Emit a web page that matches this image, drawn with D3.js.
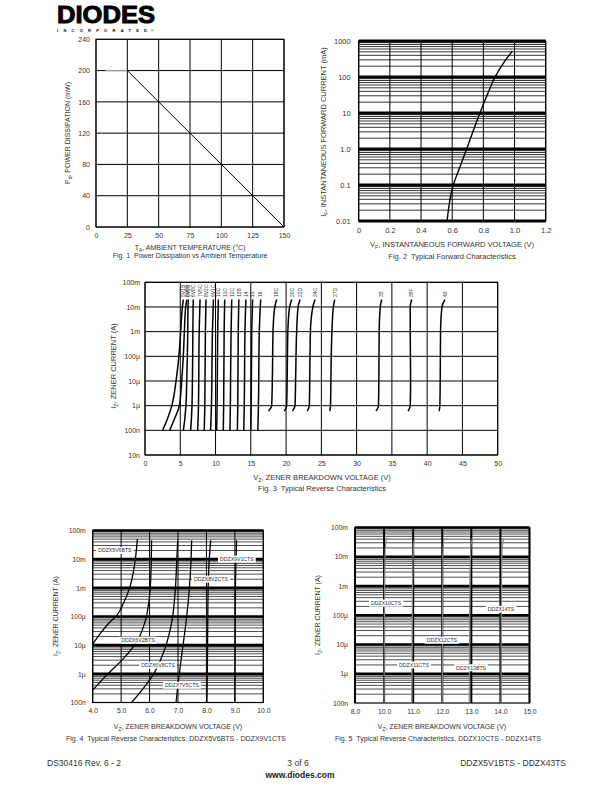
<!DOCTYPE html>
<html>
<head>
<meta charset="utf-8">
<script src="https://cdn.jsdelivr.net/npm/d3@7"></script>
<style>
body{margin:0;background:#fff}
svg{display:block;font-family:"Liberation Sans",Arial,sans-serif}
text{white-space:pre}
</style>
</head>
<body>
<div id="app"></div>
<script>
// ---- data ----
const fig1Temp = [7.5, 25, 150]
const fig1Power = [200, 200, 0]
const fig1XTicks = [0, 25, 50, 75, 100, 125, 150]
const fig1YTicks = [0, 40, 80, 120, 160, 200, 240]

const fig2Volt = [0.567, 0.607, 0.65, 0.693, 0.735, 0.778, 0.825, 0.875, 0.928, 0.986]
const fig2Curr = [0.01, 0.1, 0.32, 1, 3.2, 10, 32, 100, 240, 525]
const fig2XTicks = [0, 0.2, 0.4, 0.6, 0.8, 1.0, 1.2]
const fig2XLabels = ["0", "0.2", "0.4", "0.6", "0.8", "1.0", "1.2"]
const fig2YTicks = [0.01, 0.1, 1, 10, 100, 1000]
const fig2YLabels = ["0.01", "0.1", "1.0", "10", "100", "1000"]

const fig3Names = ["5V1B","5V6B","6V2B","6V8C","7V5C","8V2C","9V1C","10C","11C","12C","13B","14","15","16","18C","20C","22D","24C","27D","33","39F","43"]
const fig3V = [
  [2.5, 3.2, 3.8, 4.4, 4.8, 5.06, 5.3, 5.43],
  [3.5, 4.2, 4.87, 5.2, 5.43, 5.58, 5.77, 5.92],
  [5.43, 5.65, 5.8, 5.92, 6.0, 6.06, 6.1, 6.14],
  [6.47, 6.58, 6.66, 6.72, 6.76, 6.79, 6.82, 6.85],
  [7.47, 7.58, 7.68, 7.8],
  [8.4, 8.48, 8.56, 8.65],
  [9.3, 9.42, 9.56, 9.7],
  [10.16, 10.22, 10.3, 10.4],
  [11.1, 11.15, 11.22, 11.3],
  [12.05, 12.1, 12.2, 12.3],
  [13.1, 13.15, 13.22, 13.3],
  [14.0, 14.07, 14.17, 14.3],
  [15.0, 15.05, 15.13, 15.26],
  [16.0, 16.08, 16.2, 16.4],
  [17.5, 17.96, 18.05, 18.15, 18.4, 18.67],
  [19.75, 20.08, 20.15, 20.25, 20.5, 20.8],
  [20.9, 21.27, 21.35, 21.5, 21.7, 21.98],
  [23.0, 23.3, 23.35, 23.45, 23.8, 24.1],
  [26.2, 26.3, 26.35, 26.5, 26.7, 26.9],
  [32.75, 33.1, 33.15, 33.2, 33.35, 33.55],
  [37.3, 37.6, 37.65, 37.6, 37.6, 37.8],
  [41.7, 41.8, 41.85, 41.9, 42.1, 42.5]
]
const fig3I = [
  [1e-7, 3e-7, 1e-6, 1e-5, 1e-4, 1e-3, 1e-2, 2e-2],
  [1e-7, 3e-7, 1e-6, 1e-5, 1e-4, 1e-3, 1e-2, 2e-2],
  [1e-7, 3e-7, 1e-6, 1e-5, 1e-4, 1e-3, 1e-2, 2e-2],
  [1e-7, 3e-7, 1e-6, 1e-5, 1e-4, 1e-3, 1e-2, 2e-2],
  [1e-7, 1e-6, 1e-3, 2e-2],
  [1e-7, 1e-6, 1e-3, 2e-2],
  [1e-7, 1e-6, 1e-3, 2e-2],
  [1e-7, 1e-6, 1e-3, 2e-2],
  [1e-7, 1e-6, 1e-3, 2e-2],
  [1e-7, 1e-6, 1e-3, 2e-2],
  [1e-7, 1e-6, 1e-3, 2e-2],
  [1e-7, 1e-6, 1e-3, 2e-2],
  [1e-7, 1e-6, 1e-3, 2e-2],
  [1e-7, 1e-6, 1e-3, 2e-2],
  [6e-7, 1e-6, 1e-5, 1e-3, 1e-2, 2e-2],
  [6e-7, 1e-6, 1e-5, 1e-3, 1e-2, 2e-2],
  [6e-7, 1e-6, 1e-5, 1e-3, 1e-2, 2e-2],
  [6e-7, 1e-6, 1e-5, 1e-3, 1e-2, 2e-2],
  [6e-7, 1e-6, 1e-5, 1e-3, 1e-2, 2e-2],
  [6e-7, 1e-6, 1e-5, 1e-3, 1e-2, 2e-2],
  [6e-7, 1e-6, 1e-5, 1e-3, 1e-2, 2e-2],
  [6e-7, 1e-6, 1e-5, 1e-3, 1e-2, 2e-2]
]
const fig3XTicks = [0, 5, 10, 15, 20, 25, 30, 35, 40, 45, 50]
const fig3YTicks = [1e-8, 1e-7, 1e-6, 1e-5, 1e-4, 1e-3, 1e-2, 1e-1]
const fig3YLabels = ["10n", "100n", "1\u00b5", "10\u00b5", "100\u00b5", "1m", "10m", "100m"]

const fig4Names = ["DDZX5V6BTS", "DDZX6V2BTS", "DDZX6V8CTS", "DDZX7V5CTS", "DDZX8V2CTS", "DDZX9V1CTS"]
const fig4V = [
  [4.0, 4.3, 4.6, 4.85, 5.1, 5.3, 5.42, 5.5, 5.57],
  [4.0, 4.49, 5.08, 5.55, 5.84, 5.99, 6.05, 6.07],
  [5.37, 5.78, 6.19, 6.54, 6.78, 6.9, 6.95, 6.99],
  [6.93, 7.01, 7.13, 7.27, 7.39, 7.46, 7.48],
  [8.02, 8.04, 8.06, 8.1, 8.15],
  [9.0, 9.01, 9.02, 9.04, 9.06]
]
const fig4I = [
  [1.1e-5, 2.8e-5, 6.3e-5, 1.1e-4, 3.2e-4, 1e-3, 3.2e-3, 1e-2, 5e-2],
  [2.7e-7, 9e-7, 3.4e-6, 1.3e-5, 6.5e-5, 4.3e-4, 3.6e-3, 4.6e-2],
  [1e-7, 3.1e-7, 1.2e-6, 7.6e-6, 6.5e-5, 7.2e-4, 6.2e-3, 4.6e-2],
  [1e-7, 5.2e-7, 4.5e-6, 5e-5, 7.2e-4, 1e-2, 4.6e-2],
  [1e-7, 1e-5, 1e-3, 1e-2, 4.6e-2],
  [1e-7, 1e-5, 1e-3, 1e-2, 4.6e-2]
]
const fig4XTicks = [4, 5, 6, 7, 8, 9, 10]
const fig4XLabels = ["4.0", "5.0", "6.0", "7.0", "8.0", "9.0", "10.0"]
const fig45YTicks = [1e-7, 1e-6, 1e-5, 1e-4, 1e-3, 1e-2, 1e-1]
const fig45YLabels = ["100n", "1\u00b5", "10\u00b5", "100\u00b5", "1m", "10m", "100m"]

const fig5Names = ["DDZX10CTS", "DDZX11CTS", "DDZX12CTS", "DDZX13BTS", "DDZX14TS"]
const fig5V = [
  [10.0, 10.01, 10.03, 10.06, 10.09],
  [10.95, 10.97, 11.0, 11.02, 11.05],
  [12.0, 12.01, 12.02, 12.04, 12.07],
  [12.93, 12.94, 12.97, 13.0, 13.04],
  [14.02, 14.03, 14.05, 14.08, 14.12]
]
const fig5I = [1e-7, 1e-4, 1e-2, 3e-2, 4.3e-2]
const fig5XTicks = [9, 10, 11, 12, 13, 14, 15]
const fig5XLabels = ["8.0", "10.0", "11.0", "12.0", "13.0", "14.0", "15.0"]

// label anchors, in data units
const fig4LabelAt = [[4.78, 2e-2], [5.59, 1.5e-5], [6.3, 2e-6], [7.14, 4e-7], [8.16, 2e-3], [9.07, 1e-2]]
const fig5LabelAt = [[10.07, 2.6e-4], [11.03, 2e-6], [11.99, 1.4e-5], [12.99, 1.6e-6], [14.02, 1.6e-4]]

// ---- drawing ----
const ink = "#333"
const svg = d3.select("#app").append("svg")
  .attr("width", 612)
  .attr("height", 792)
svg.append("rect").attr("width", 612).attr("height", 792).attr("fill", "#fff")

function logMinor(lo, hi) {
  const out = []
  for (let e = lo; e < hi; e++) for (let k = 2; k < 10; k++) out.push(k * Math.pow(10, e))
  return out
}

function hLines(g, data, x, y, w) {
  g.selectAll(null).data(data).enter().append("line")
    .attr("x1", x.range()[0]).attr("x2", x.range()[1])
    .attr("y1", d => y(d)).attr("y2", d => y(d))
    .attr("stroke", "#000").attr("stroke-width", w)
}
function vLines(g, data, x, y, w) {
  g.selectAll(null).data(data).enter().append("line")
    .attr("x1", d => x(d)).attr("x2", d => x(d))
    .attr("y1", y.range()[0]).attr("y2", y.range()[1])
    .attr("stroke", "#000").attr("stroke-width", w)
}
function frame(g, x, y, w) {
  g.append("rect")
    .attr("x", x.range()[0]).attr("y", y.range()[1])
    .attr("width", x.range()[1] - x.range()[0])
    .attr("height", y.range()[0] - y.range()[1])
    .attr("fill", "none").attr("stroke", "#000").attr("stroke-width", w)
}
function axes(x, y, xt, xl, yt, yl, fs, padX, padY) {
  const ax = svg.append("g")
    .attr("transform", "translate(0," + y.range()[0] + ")")
    .call(d3.axisBottom(x).tickValues(xt).tickFormat((d, i) => xl ? xl[i] : d).tickSize(0).tickPadding(padX))
  const ay = svg.append("g")
    .attr("transform", "translate(" + x.range()[0] + ",0)")
    .call(d3.axisLeft(y).tickValues(yt).tickFormat((d, i) => yl ? yl[i] : d).tickSize(0).tickPadding(padY))
  for (const a of [ax, ay]) {
    a.select(".domain").remove()
    a.attr("font-family", null).attr("font-size", fs).attr("color", ink)
  }
}
function subText(x, y, main, sub, rest, fs, rotate) {
  const t = svg.append("text")
    .attr("text-anchor", "middle")
    .attr("font-size", fs)
    .attr("fill", ink)
    .attr("transform", "translate(" + x + "," + y + ")" + (rotate ? " rotate(-90)" : ""))
  t.append("tspan").text(main)
  t.append("tspan").attr("font-size", fs * 0.7).attr("dy", fs * 0.3).text(sub)
  t.append("tspan").attr("dy", -fs * 0.3).text(rest)
}
function caption(x, y, s, fs) {
  svg.append("text").attr("x", x).attr("y", y).attr("text-anchor", "middle")
    .attr("font-size", fs).attr("fill", ink).text(s)
}
function boxLabel(g, px, py, s) {
  const lg = g.append("g")
  const r = lg.append("rect").attr("fill", "#fff")
  const t = lg.append("text").attr("x", px).attr("y", py).attr("dy", "0.35em")
    .attr("text-anchor", "middle").attr("font-size", 5.2).attr("fill", ink).text(s)
  const w = t.node().getComputedTextLength() + 4
  r.attr("x", px - w / 2).attr("y", py - 3.5).attr("width", w).attr("height", 7)
}

// logo
svg.append("text")
  .attr("x", 57).attr("y", 22.5)
  .attr("font-size", 24).attr("font-weight", "bold")
  .attr("textLength", 98).attr("lengthAdjust", "spacingAndGlyphs")
  .attr("fill", "#000").attr("stroke", "#000").attr("stroke-width", 1)
  .text("DIODES")
svg.append("text")
  .attr("x", 57).attr("y", 31.5)
  .attr("font-size", 4).attr("font-weight", "bold")
  .attr("textLength", 90).attr("lengthAdjust", "spacing")
  .attr("fill", "#000")
  .text("INCORPORATED")
svg.append("text").attr("x", 151).attr("y", 31.5).attr("font-size", 3.5).attr("fill", "#000").text("\u00ae")

// Fig 1
const x1 = d3.scaleLinear().domain([0, 150]).range([96, 284])
const y1 = d3.scaleLinear().domain([0, 240]).range([227, 39.3])
const g1 = svg.append("g")
vLines(g1, fig1XTicks, x1, y1, 1)
hLines(g1, fig1YTicks, x1, y1, 1)
frame(g1, x1, y1, 1)
const line1 = d3.line().x(i => x1(fig1Temp[i])).y(i => y1(fig1Power[i]))
g1.append("path").datum([0, 1]).attr("d", line1).attr("fill", "none").attr("stroke", "#999").attr("stroke-width", 1.3)
g1.append("path").datum([1, 2]).attr("d", line1).attr("fill", "none").attr("stroke", "#000").attr("stroke-width", 1)
axes(x1, y1, fig1XTicks, null, fig1YTicks, null, 7, 6, 6)
subText(70, 133, "P", "d", ", POWER DISSIPATION (mW)", 7, true)
subText(190, 250, "T", "A", ", AMBIENT TEMPERATURE (\u00b0C)", 7)
caption(190, 258, "Fig. 1  Power Dissipation vs Ambient Temperature", 7)

// Fig 2
const x2 = d3.scaleLinear().domain([0, 1.2]).range([358.7, 545.7])
const y2 = d3.scaleLog().domain([0.01, 1000]).range([221, 41])
const g2 = svg.append("g")
hLines(g2, logMinor(-2, 3), x2, y2, 0.8)
vLines(g2, fig2XTicks, x2, y2, 1)
hLines(g2, fig2YTicks, x2, y2, 2.8)
frame(g2, x2, y2, 1.2)
g2.append("path")
  .datum(fig2Volt.map((v, i) => [v, fig2Curr[i]]))
  .attr("d", d3.line().x(d => x2(d[0])).y(d => y2(d[1])).curve(d3.curveMonotoneY))
  .attr("fill", "none").attr("stroke", "#000").attr("stroke-width", 1.4)
axes(x2, y2, fig2XTicks, fig2XLabels, fig2YTicks, fig2YLabels, 7.5, 7, 8)
subText(326, 132, "I", "F", ", INSTANTANEOUS FORWARD CURRENT (mA)", 7.5, true)
subText(452, 247, "V", "F", ", INSTANTANEOUS FORWARD VOLTAGE (V)", 7.5)
caption(452, 259, "Fig. 2  Typical Forward Characteristics", 7.5)

// Fig 3
const x3 = d3.scaleLinear().domain([0, 50]).range([145, 497.7])
const y3 = d3.scaleLog().domain([1e-8, 1e-1]).range([455, 282.3])
const g3 = svg.append("g")
vLines(g3, fig3XTicks, x3, y3, 1)
hLines(g3, fig3YTicks, x3, y3, 1)
frame(g3, x3, y3, 1)
const line3 = d3.line().x(d => x3(d[0])).y(d => y3(d[1])).curve(d3.curveMonotoneY)
fig3V.forEach((vs, k) => {
  g3.append("path")
    .datum(vs.map((v, i) => [v, fig3I[k][i]]))
    .attr("d", line3)
    .attr("fill", "none").attr("stroke", "#000").attr("stroke-width", 1.5)
  g3.append("text")
    .attr("transform", "translate(" + (x3(vs[vs.length - 1]) + 1.8) + ",297) rotate(-90)")
    .attr("font-size", 5).attr("fill", ink)
    .text(fig3Names[k])
})
axes(x3, y3, fig3XTicks, null, fig3YTicks, fig3YLabels, 7, 6, 5)
subText(116, 366, "I", "Z", ", ZENER CURRENT (A)", 7.5, true)
subText(322, 480, "V", "Z", ", ZENER BREAKDOWN VOLTAGE (V)", 7.5)
caption(322, 491, "Fig. 3  Typical Reverse Characteristics", 7.5)

// Fig 4
const x4 = d3.scaleLinear().domain([4, 10]).range([92.7, 263.3])
const y4 = d3.scaleLog().domain([1e-7, 1e-1]).range([702.5, 530.5])
const g4 = svg.append("g")
hLines(g4, logMinor(-7, -1), x4, y4, 0.7)
vLines(g4, fig4XTicks, x4, y4, 1)
hLines(g4, fig45YTicks.slice(1), x4, y4, 2.6)
frame(g4, x4, y4, 1.2)
const line4 = d3.line().x(d => x4(d[0])).y(d => y4(d[1])).curve(d3.curveMonotoneY)
fig4V.forEach((vs, k) => {
  g4.append("path")
    .datum(vs.map((v, i) => [v, fig4I[k][i]]))
    .attr("d", line4)
    .attr("fill", "none").attr("stroke", "#000").attr("stroke-width", 1.3)
})
fig4Names.forEach((s, k) => boxLabel(g4, x4(fig4LabelAt[k][0]), y4(fig4LabelAt[k][1]), s))
axes(x4, y4, fig4XTicks, fig4XLabels, fig45YTicks, fig45YLabels, 6.8, 6, 7)
subText(58, 616, "I", "Z", ", ZENER CURRENT (A)", 7, true)
subText(178, 729, "V", "Z", ", ZENER BREAKDOWN VOLTAGE (V)", 7)
caption(176, 741, "Fig. 4  Typical Reverse Characteristics, DDZX5V6BTS - DDZX9V1CTS", 7)

// Fig 5
const x5 = d3.scaleLinear().domain([9, 15]).range([355, 529.5])
const y5 = d3.scaleLog().domain([1e-7, 1e-1]).range([703, 527.5])
const g5 = svg.append("g")
hLines(g5, logMinor(-7, -1), x5, y5, 0.7)
vLines(g5, fig5XTicks, x5, y5, 2)
hLines(g5, fig45YTicks.slice(1), x5, y5, 2.6)
frame(g5, x5, y5, 1.2)
const line5 = d3.line().x(d => x5(d[0])).y(d => y5(d[1])).curve(d3.curveMonotoneY)
fig5V.forEach(vs => {
  g5.append("path")
    .datum(vs.map((v, i) => [v, fig5I[i]]))
    .attr("d", line5)
    .attr("fill", "none").attr("stroke", "#888").attr("stroke-width", 1.2)
})
fig5Names.forEach((s, k) => boxLabel(g5, x5(fig5LabelAt[k][0]), y5(fig5LabelAt[k][1]), s))
axes(x5, y5, fig5XTicks, fig5XLabels, fig45YTicks, fig45YLabels, 6.8, 6, 7)
subText(320, 615, "I", "Z", ", ZENER CURRENT (A)", 7, true)
subText(442, 729, "V", "Z", ", ZENER BREAKDOWN VOLTAGE (V)", 7)
caption(438, 741, "Fig. 5  Typical Reverse Characteristics, DDZX10CTS - DDZX14TS", 7)

// footer
svg.append("text").attr("x", 47).attr("y", 766).attr("font-size", 8.5).attr("fill", ink).text("DS30416 Rev. 6 - 2")
svg.append("text").attr("x", 298).attr("y", 766).attr("text-anchor", "middle").attr("font-size", 8.5).attr("fill", ink).text("3 of 6")
svg.append("text").attr("x", 566).attr("y", 766).attr("text-anchor", "end").attr("font-size", 8.5).attr("fill", ink).text("DDZX5V1BTS - DDZX43TS")
svg.append("text").attr("x", 300).attr("y", 778).attr("text-anchor", "middle").attr("font-size", 8.5).attr("font-weight", "bold").attr("fill", "#222").text("www.diodes.com")
</script>
</body>
</html>
